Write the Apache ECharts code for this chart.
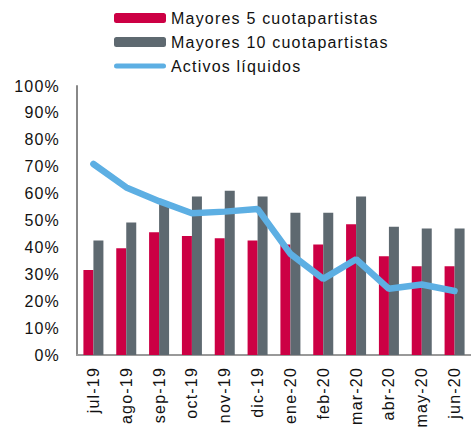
<!DOCTYPE html>
<html>
<head>
<meta charset="utf-8">
<script src="https://cdn.jsdelivr.net/npm/echarts@6/dist/echarts.min.js"></script>
<style>
  html, body { margin: 0; padding: 0; background: #fff; }
  #chart { width: 471px; height: 428px; }
  #chart text { letter-spacing: 1.2px; }
</style>
</head>
<body>
<div id="chart"></div>
<script>
const months = ['jul-19', 'ago-19', 'sep-19', 'oct-19', 'nov-19', 'dic-19', 'ene-20', 'feb-20', 'mar-20', 'abr-20', 'may-20', 'jun-20']
const top5 = [31.6, 39.7, 45.6, 44.2, 43.4, 42.6, 41.1, 41.1, 48.6, 36.7, 33.0, 33.0]
const top10 = [42.6, 49.3, 56.6, 58.9, 61.1, 58.9, 52.9, 52.9, 58.9, 47.7, 47.0, 47.0]
const liquidos = [71.0, 62.3, 57.2, 52.7, 53.3, 54.3, 37.6, 28.3, 35.6, 24.6, 26.2, 23.8]

// svg so the css letter-spacing reaches the labels
const chart = echarts.init(document.getElementById('chart'), null, { renderer: 'svg' })

const font = 'Liberation Sans, Arial, sans-serif'
const lineIcon = 'path://M2.5,0 H49.5 A2.5,2.5 0 0 1 49.5,5 H2.5 A2.5,2.5 0 0 1 2.5,0 Z'

chart.setOption({
  animation: false,
  textStyle: { fontFamily: font },
  legend: {
    orient: 'vertical',
    left: 114,
    top: 10,
    padding: 0,
    itemWidth: 52,
    itemHeight: 10,
    itemGap: 8,
    textStyle: { fontSize: 16, color: '#111', lineHeight: 16, fontFamily: font },
    data: [
      'Mayores 5 cuotapartistas',
      'Mayores 10 cuotapartistas',
      { name: 'Activos líquidos', icon: lineIcon }
    ]
  },
  grid: { left: 77, right: -8, top: 86, bottom: 73 },
  xAxis: {
    type: 'category',
    data: months,
    axisLine: { lineStyle: { color: '#999', width: 2 } },
    axisTick: { show: false },
    axisLabel: { rotate: 90, fontSize: 16, color: '#111', margin: 12, interval: 0 }
  },
  yAxis: {
    type: 'value',
    min: 0,
    max: 100,
    interval: 10,
    axisLine: { show: true, lineStyle: { color: '#888', width: 2 } },
    axisTick: { show: false },
    splitLine: { show: false },
    axisLabel: { formatter: '{value}%', fontSize: 16, color: '#111', margin: 17 }
  },
  series: [
    {
      name: 'Mayores 5 cuotapartistas',
      type: 'bar',
      data: top5,
      barWidth: 10,
      barGap: '0%',
      itemStyle: { color: '#CC0044' }
    },
    {
      name: 'Mayores 10 cuotapartistas',
      type: 'bar',
      data: top10,
      barWidth: 10,
      barGap: '0%',
      itemStyle: { color: '#5E6970' }
    },
    {
      name: 'Activos líquidos',
      type: 'line',
      data: liquidos,
      symbol: 'none',
      lineStyle: { color: '#5DAFE3', width: 6.5, cap: 'round' },
      itemStyle: { color: '#5DAFE3' }
    }
  ]
})
</script>
</body>
</html>
